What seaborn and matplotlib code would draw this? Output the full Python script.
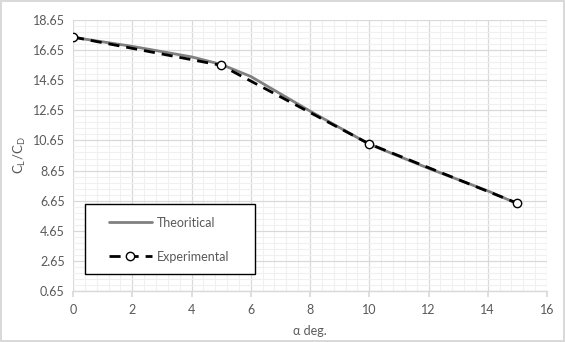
import numpy as np
import pandas as pd
import matplotlib
matplotlib.use("Agg")
import matplotlib.pyplot as plt
import seaborn as sns
from matplotlib.ticker import MultipleLocator, FixedLocator
from matplotlib.patches import Rectangle

# Data
theo_alpha = [0, 2, 4, 5, 6, 8, 10, 12, 14, 15]
theo_ratio = [17.5, 16.9, 16.2, 15.7, 14.9, 12.6, 10.4, 8.8, 7.3, 6.45]
exp_alpha = [0, 5, 10, 15]
exp_ratio = [17.52, 15.64, 10.42, 6.48]
x_ticks = [0, 2, 4, 6, 8, 10, 12, 14, 16]
y_ticks = [0.65, 2.65, 4.65, 6.65, 8.65, 10.65, 12.65, 14.65, 16.65, 18.65]

sns.set_theme(style="white")
plt.rcParams['font.family'] = ['Lato', 'DejaVu Sans']

W, H = 565, 342
fig = plt.figure(figsize=(5.65, 3.42), dpi=100)
fig.patch.set_edgecolor('#d9d9d9')
fig.patch.set_linewidth(1.5)
L, R, T, B = 73, 547, 20, 291
ax = fig.add_axes([L/W, (H-B)/H, (R-L)/W, (B-T)/H])

df_t = pd.DataFrame({"a": theo_alpha, "r": theo_ratio})
df_e = pd.DataFrame({"a": exp_alpha, "r": exp_ratio})

sns.lineplot(data=df_t, x="a", y="r", ax=ax, color="#808080", linewidth=2.0,
             label="Theoritical", zorder=3)
sns.lineplot(data=df_e, x="a", y="r", ax=ax, color="black", linewidth=2.0,
             linestyle=(0, (4, 2.5)), marker="o", markersize=6,
             markerfacecolor="white", markeredgecolor="black", markeredgewidth=1.0,
             label="Experimental", zorder=4)

ax.set_xlim(0, 16)
ax.set_ylim(0.65, 18.65)
ax.xaxis.set_major_locator(FixedLocator(x_ticks))
ax.yaxis.set_major_locator(FixedLocator(y_ticks))
ax.xaxis.set_minor_locator(MultipleLocator(0.4))
ax.yaxis.set_minor_locator(FixedLocator(np.arange(0.65, 18.66, 0.4)))
ax.grid(which='major', color='#d9d9d9', linewidth=0.9)
ax.grid(which='minor', color='#f0f0f0', linewidth=0.8)
ax.set_axisbelow(True)

for s in ['top', 'right', 'left']:
    ax.spines[s].set_visible(False)
ax.spines['bottom'].set_color('#d9d9d9')
ax.spines['bottom'].set_linewidth(1.0)

ax.tick_params(axis='x', which='major', length=4, color='#d9d9d9', labelsize=9,
               labelcolor='#595959', pad=5, bottom=True)
ax.tick_params(axis='x', which='minor', length=0)
ax.tick_params(axis='y', which='both', length=0, labelsize=9, labelcolor='#595959', pad=6)
ax.set_yticklabels([f"{v:.2f}" for v in y_ticks])

ax.set_xlabel("α deg.", fontsize=9, color='#595959', labelpad=7)
ax.set_ylabel(r"C$_\mathregular{L}$/C$_\mathregular{D}$", fontsize=9.5, color='#595959', labelpad=3)

# legend box (drawn as a rectangle in axes coords)
bx0, bx1, by0, by1 = 85, 255, 204, 274
rect = Rectangle(((bx0-L)/(R-L), (B-by1)/(B-T)), (bx1-bx0)/(R-L), (by1-by0)/(B-T),
                 transform=ax.transAxes, facecolor='white', edgecolor='black',
                 linewidth=1.0, zorder=5, clip_on=False)
ax.add_patch(rect)

leg = ax.legend(loc='center left', bbox_to_anchor=((109-L)/(R-L), (B-239.7)/(B-T)),
                frameon=False, fontsize=9, labelspacing=1.75, handlelength=3.4,
                borderpad=0, handletextpad=0.4, borderaxespad=0,
                labelcolor='#595959')
leg.set_zorder(6)

fig.savefig("out.png", dpi=100, edgecolor=fig.get_edgecolor())
